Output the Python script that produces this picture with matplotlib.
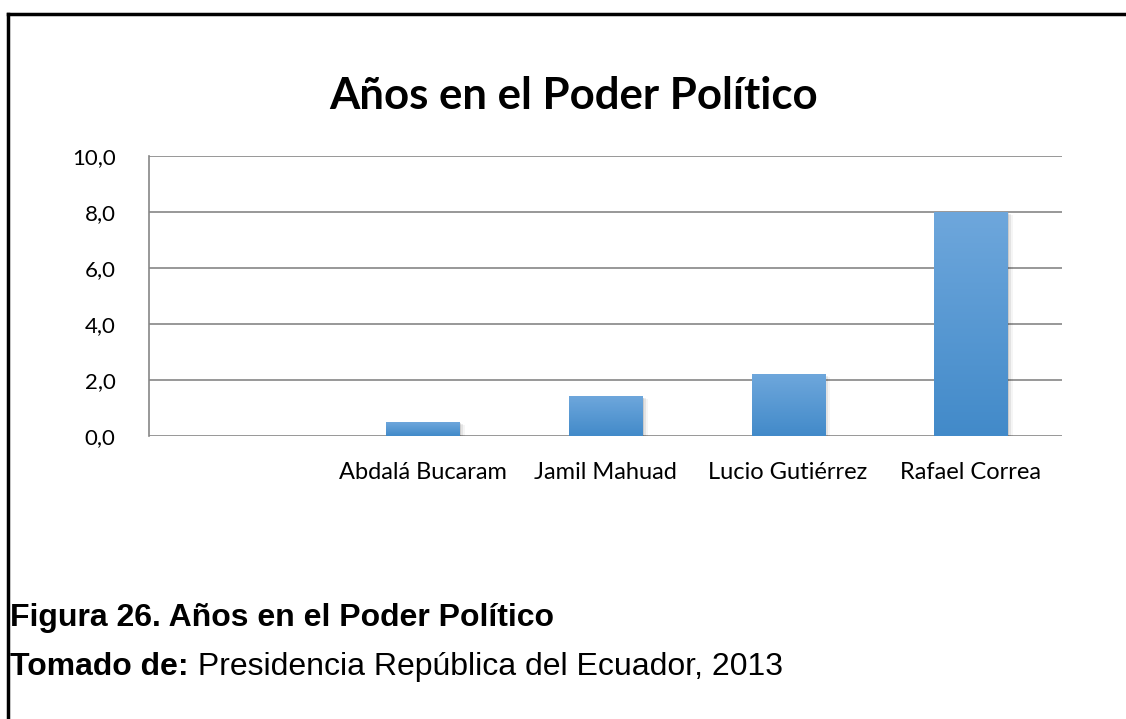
import matplotlib.pyplot as plt
import numpy as np
from matplotlib.patches import Rectangle
from matplotlib.colors import LinearSegmentedColormap

# data
categories = ['', 'Abdalá Bucaram', 'Jamil Mahuad', 'Lucio Gutiérrez', 'Rafael Correa']
years = [np.nan, 0.5, 1.4, 2.2, 8.0]
y_ticks = [0, 2, 4, 6, 8, 10]
y_labels = ['0,0', '2,0', '4,0', '6,0', '8,0', '10,0']

fig = plt.figure(figsize=(11.26, 7.19), dpi=100)
ax = fig.add_axes([0.1323, 0.3936, 0.8109, 0.3894])

x = np.arange(len(categories))
bars = ax.bar(x, years, width=0.4, color='none', zorder=3)

# gradient fill + soft shadow for each bar
grad = np.linspace(0, 1, 256).reshape(-1, 1)
cmap = LinearSegmentedColormap.from_list('b', ['#428ac9', '#6ea7dc'])
for b in bars:
    h = b.get_height()
    if np.isnan(h):
        continue
    x0, w = b.get_x(), b.get_width()
    for k, a in enumerate([0.10, 0.07, 0.04]):
        ax.add_patch(Rectangle((x0 + 0.01 * (k + 1), -0.03 * (k + 1)), w, h,
                               color='black', alpha=a, lw=0, zorder=2))
    ax.imshow(grad, extent=(x0, x0 + w, 0, h), origin='lower', cmap=cmap,
              aspect='auto', zorder=3)

ax.set_xlim(-0.5, len(categories) - 0.5)
ax.set_ylim(0, 10)
ax.set_yticks(y_ticks)
ax.set_yticklabels(y_labels, fontsize=16, family='Lato')
ax.set_xticks(x)
ax.set_xticklabels(categories, fontsize=17, family='Lato')
ax.tick_params(length=0, pad=19)
ax.tick_params(axis='y', pad=24)
ax.yaxis.grid(True, color='#868686', lw=1.2, zorder=0)
for s in ['top', 'right', 'bottom']:
    ax.spines[s].set_visible(False)
ax.spines['left'].set_color('#868686')
ax.spines['left'].set_linewidth(1.2)
ax.set_axisbelow(True)

fig.text(0.509, 0.866, 'Años en el Poder Político', fontsize=31.5, fontweight='bold',
         family='Lato', ha='center', va='center')

# caption
fig.text(0.0089, 0.140, 'Figura 26. Años en el Poder Político', fontsize=23,
         fontweight='bold', family='Liberation Sans', va='center')
t1 = fig.text(0.0089, 0.073, 'Tomado de:', fontsize=23, fontweight='bold',
              family='Liberation Sans', va='center')
ax.annotate(' Presidencia República del Ecuador, 2013', xy=(1, 0.5), xycoords=t1,
            fontsize=23, family='Liberation Sans', va='center', annotation_clip=False)

# frame of the figure (top and left only)
fig.add_artist(plt.Line2D([0.0071, 1.0], [0.981, 0.981], color='black', lw=2.5,
                          transform=fig.transFigure))
fig.add_artist(plt.Line2D([0.0071, 0.0071], [0.0, 0.981], color='black', lw=2.5,
                          transform=fig.transFigure))

fig.savefig('out.png', dpi=100)
